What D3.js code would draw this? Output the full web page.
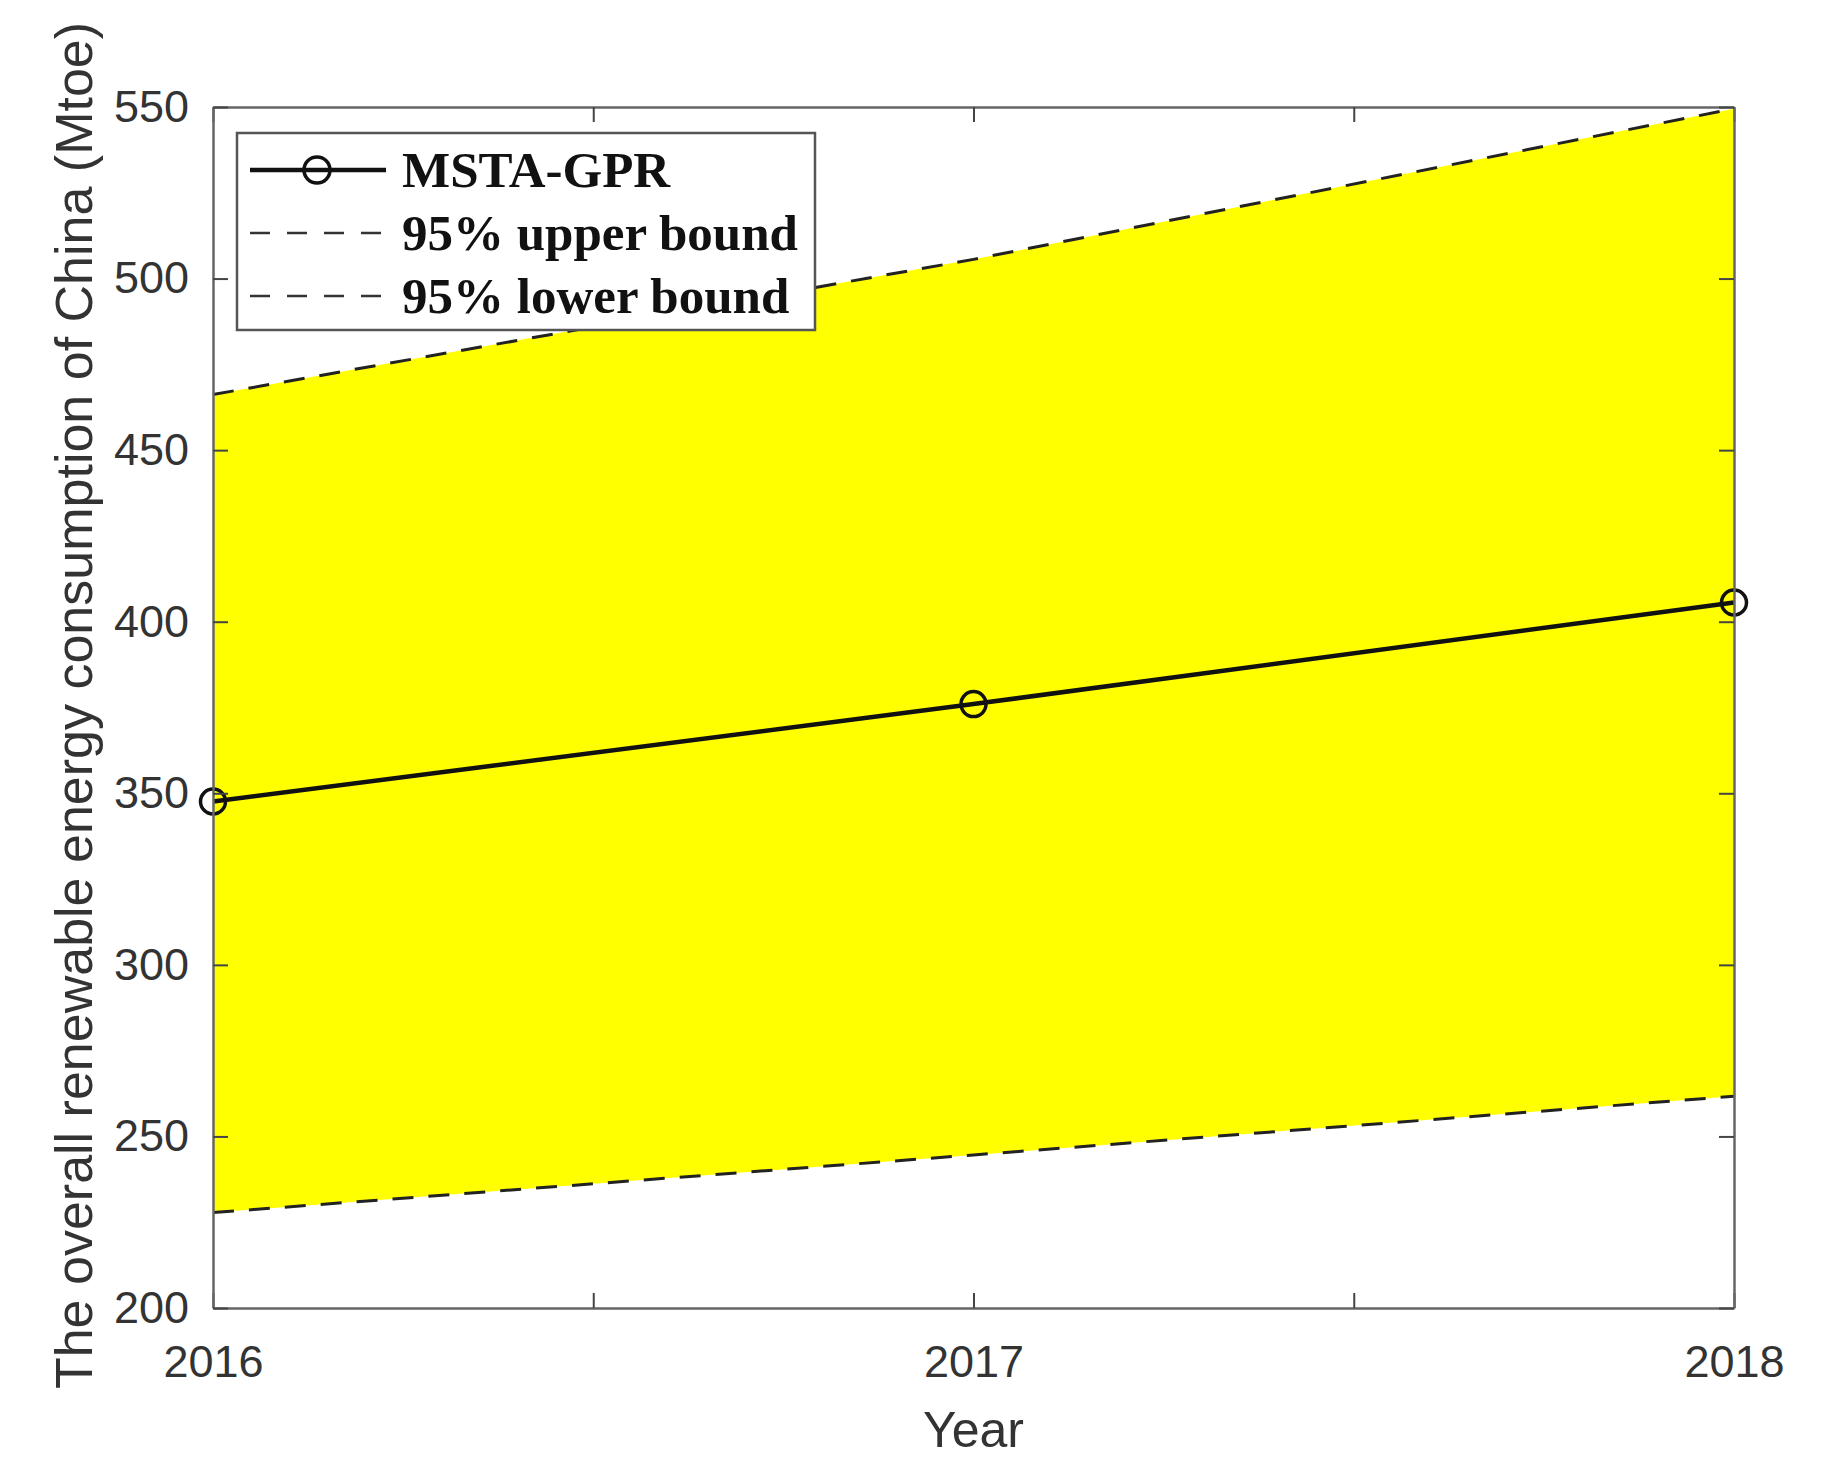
<!DOCTYPE html>
<html>
<head>
<meta charset="utf-8">
<script src="https://cdn.jsdelivr.net/npm/d3@7"></script>
<style>
  html, body { margin: 0; padding: 0; background: #fff; }
  svg { display: block; }
  .tick text { font-family: "Liberation Sans", Arial, sans-serif; fill: #333; }
</style>
</head>
<body>
<svg id="chart" width="1832" height="1484"></svg>
<script>
// values
var years = [2016, 2017, 2018];
var mstaGpr = [347.6, 376.0, 405.6];
var upperBound = [466.2, 505.6, 549.5];
var lowerBound = [227.8, 244.6, 261.7];
var xTickValues = [2016, 2016.5, 2017, 2017.5, 2018];
var yTickValues = [200, 250, 300, 350, 400, 450, 500, 550];
var legendLabels = ['MSTA-GPR', '95% upper bound', '95% lower bound'];

var svg = d3.select('#chart');
// plot box (note: "top" is a reserved window global, so prefixed names)
var plotLeft = 213, plotRight = 1734, plotTop = 107, plotBottom = 1308;

var x = d3.scaleLinear().domain([2016, 2018]).range([plotLeft, plotRight]);
var y = d3.scaleLinear().domain([200, 550]).range([plotBottom, plotTop]);

var rows = years.map(function(yr, i) {
    return { x: yr, m: mstaGpr[i], hi: upperBound[i], lo: lowerBound[i] };
});

// confidence band
var band = d3.area()
    .x(function(d) { return x(d.x); })
    .y0(function(d) { return y(d.lo); })
    .y1(function(d) { return y(d.hi); });
svg.append('path').datum(rows)
    .attr('d', band)
    .attr('fill', '#ffff00');

// dashed bounds
['hi', 'lo'].forEach(function(key) {
    svg.append('path').datum(rows)
        .attr('d', d3.line().x(function(d) { return x(d.x); }).y(function(d) { return y(d[key]); }))
        .attr('fill', 'none')
        .attr('stroke', '#222')
        .attr('stroke-width', 3)
        .attr('stroke-dasharray', '21,15');
});

// forecast line + markers
svg.append('path').datum(rows)
    .attr('d', d3.line().x(function(d) { return x(d.x); }).y(function(d) { return y(d.m); }))
    .attr('fill', 'none')
    .attr('stroke', '#111')
    .attr('stroke-width', 4.5);
svg.selectAll('circle.pt').data(rows).enter().append('circle')
    .attr('class', 'pt')
    .attr('cx', function(d) { return x(d.x); })
    .attr('cy', function(d) { return y(d.m); })
    .attr('r', 12.5)
    .attr('fill', 'none')
    .attr('stroke', '#111')
    .attr('stroke-width', 3.5);

// axes (box with inward ticks)
function styleAxis(g) {
    g.select('.domain').attr('stroke', '#666').attr('stroke-width', 2.5);
    g.selectAll('.tick line').attr('stroke', '#444').attr('stroke-width', 2);
}
var fmtX = function(d) { return d % 1 === 0 ? d : ''; };

svg.append('g').attr('transform', 'translate(0,' + plotBottom + ')')
    .call(d3.axisBottom(x).tickValues(xTickValues).tickFormat(fmtX).tickSizeInner(-15).tickSizeOuter(0).tickPadding(37))
    .call(styleAxis)
    .selectAll('text').style('font-size', '45px');
svg.append('g').attr('transform', 'translate(0,' + plotTop + ')')
    .call(d3.axisTop(x).tickValues(xTickValues).tickFormat('').tickSizeInner(-15).tickSizeOuter(0))
    .call(styleAxis);
svg.append('g').attr('transform', 'translate(' + plotLeft + ',0)')
    .call(d3.axisLeft(y).tickValues(yTickValues).tickSizeInner(-15).tickSizeOuter(0).tickPadding(24))
    .call(styleAxis)
    .selectAll('text').style('font-size', '45px');
svg.append('g').attr('transform', 'translate(' + plotRight + ',0)')
    .call(d3.axisRight(y).tickValues(yTickValues).tickFormat('').tickSizeInner(-15).tickSizeOuter(0))
    .call(styleAxis);

// axis titles
svg.append('text')
    .attr('x', (plotLeft + plotRight) / 2).attr('y', 1447)
    .attr('text-anchor', 'middle')
    .style('font-family', '"Liberation Sans", Arial, sans-serif')
    .style('font-size', '50px').style('fill', '#333')
    .text('Year');
svg.append('text')
    .attr('transform', 'translate(92,' + ((plotTop + plotBottom) / 2 - 2) + ') rotate(-90)')
    .attr('text-anchor', 'middle')
    .style('font-family', '"Liberation Sans", Arial, sans-serif')
    .style('font-size', '52px').style('fill', '#333')
    .text('The overall renewable energy consumption of China (Mtoe)');

// legend
var lg = svg.append('g');
lg.append('rect')
    .attr('x', 237).attr('y', 133).attr('width', 578).attr('height', 197)
    .attr('fill', '#fff').attr('stroke', '#555').attr('stroke-width', 2.5);
var rowY = [170, 233, 296];
legendLabels.forEach(function(label, i) {
    var ly = rowY[i];
    var seg = lg.append('line')
        .attr('x1', 250).attr('x2', 386).attr('y1', ly).attr('y2', ly)
        .attr('stroke', i === 0 ? '#111' : '#333');
    if (i === 0) {
        seg.attr('stroke-width', 4.5);
        lg.append('circle').attr('cx', 317).attr('cy', ly).attr('r', 13)
            .attr('fill', 'none').attr('stroke', '#111').attr('stroke-width', 3.5);
    } else {
        seg.attr('stroke-width', 2.5).attr('stroke-dasharray', '20,17');
    }
    lg.append('text')
        .attr('x', 402).attr('y', ly + 17)
        .style('font-family', '"Liberation Serif", "Times New Roman", serif')
        .style('font-weight', 'bold')
        .style('font-size', '51px').style('fill', '#111')
        .text(label);
});
</script>
</body>
</html>
